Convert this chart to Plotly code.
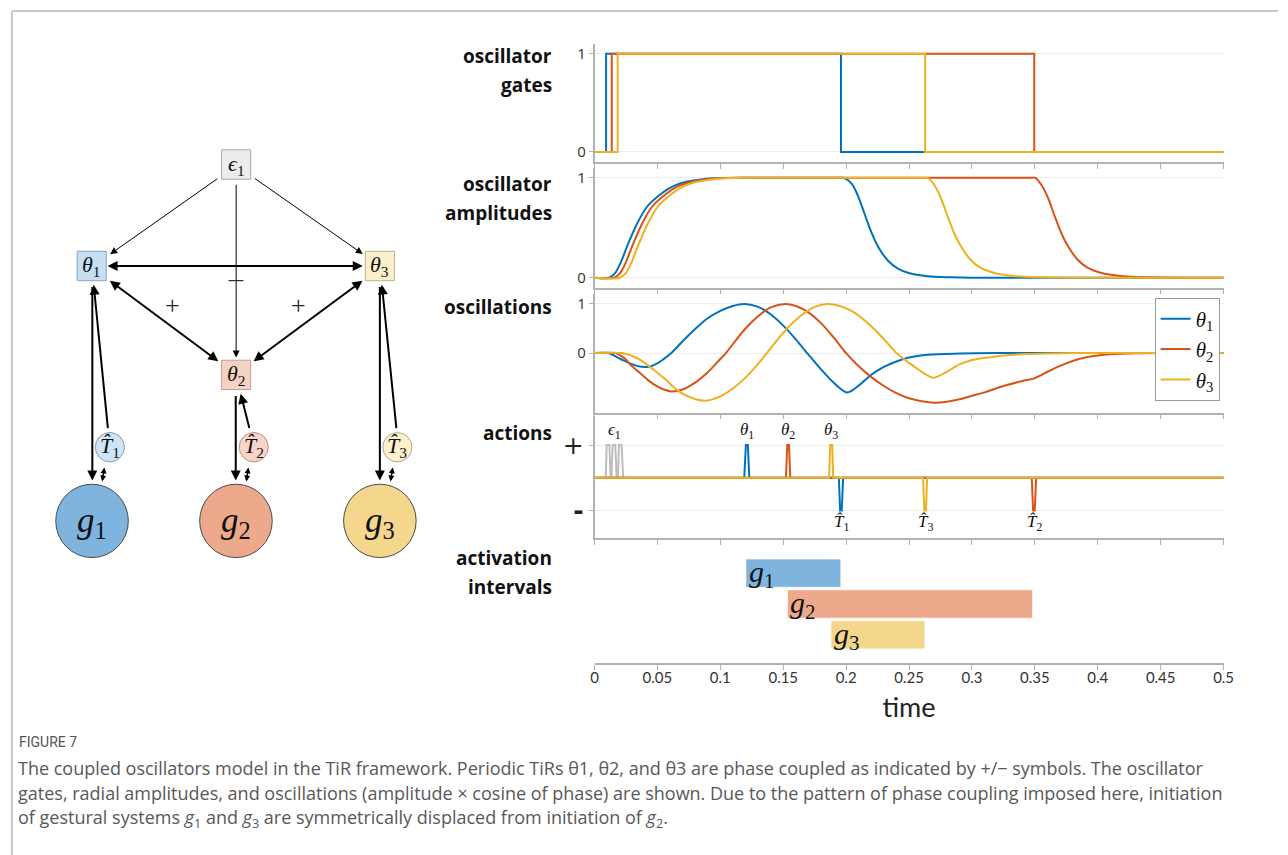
import plotly.graph_objects as go

W, H = 1288, 855

# ---------------- data ----------------
tick_vals = [0, 0.05, 0.1, 0.15, 0.2, 0.25, 0.3, 0.35, 0.4, 0.45, 0.5]
tick_text = ["0", "0.05", "0.1", "0.15", "0.2", "0.25", "0.3", "0.35", "0.4", "0.45", "0.5"]

series_names = ["θ1", "θ2", "θ3"]
series_colors = ["#0072BD", "#D95319", "#EDB120"]

# oscillator gates (step functions)
gate_t1 = [0, 0.0092, 0.1959, 0.5]
gate_v1 = [0, 1, 0, 0]
gate_t2 = [0, 0.0137, 0.3495, 0.5]
gate_v2 = [0, 1, 0, 0]
gate_t3 = [0, 0.0184, 0.2628, 0.5]
gate_v3 = [0, 1, 0, 0]

# oscillator amplitudes
amp_t1 = [0, 0.0115, 0.016, 0.0207, 0.026, 0.0338, 0.0417, 0.05, 0.06, 0.0731, 0.0862, 0.0993, 0.12, 0.195,
          0.198, 0.2045, 0.2097, 0.2149, 0.2202, 0.2254, 0.2333, 0.2411, 0.2498, 0.2647, 0.283, 0.30, 0.5]
amp_v1 = [0, 0, 0.04, 0.147, 0.317, 0.54, 0.71, 0.81, 0.90, 0.96, 0.986, 0.997, 1, 1,
          1, 0.94, 0.81, 0.63, 0.45, 0.31, 0.17, 0.09, 0.046, 0.014, 0.004, 0, 0]
amp_t2 = [0, 0.0155, 0.020, 0.0247, 0.030, 0.0378, 0.0457, 0.054, 0.064, 0.0771, 0.0902, 0.1033, 0.124, 0.347,
          0.3504, 0.3551, 0.3604, 0.3656, 0.3709, 0.3761, 0.384, 0.3918, 0.4023, 0.418, 0.44, 0.47, 0.5]
amp_v2 = [0, 0, 0.04, 0.147, 0.317, 0.54, 0.71, 0.81, 0.90, 0.96, 0.986, 0.997, 1, 1,
          1, 0.93, 0.80, 0.62, 0.45, 0.32, 0.18, 0.10, 0.05, 0.017, 0.004, 0, 0]
amp_t3 = [0, 0.020, 0.0245, 0.0292, 0.0345, 0.0423, 0.0502, 0.0585, 0.0685, 0.0816, 0.0947, 0.1078, 0.128, 0.261,
          0.2647, 0.27, 0.2752, 0.2805, 0.2857, 0.291, 0.2988, 0.3067, 0.3171, 0.3329, 0.354, 0.38, 0.5]
amp_v3 = [0, 0, 0.04, 0.147, 0.317, 0.54, 0.71, 0.81, 0.90, 0.96, 0.986, 0.997, 1, 1,
          1, 0.93, 0.80, 0.62, 0.45, 0.32, 0.18, 0.10, 0.05, 0.017, 0.004, 0, 0]

# oscillations (amplitude x cos(phase))
osc_t1 = [0, 0.011, 0.0207, 0.0336, 0.043, 0.05, 0.055, 0.061, 0.07, 0.08, 0.09, 0.10, 0.11, 0.119, 0.13, 0.14,
          0.15, 0.16, 0.169, 0.18, 0.19, 0.2007, 0.21, 0.22, 0.23, 0.24, 0.25, 0.265, 0.29, 0.32, 0.5]
osc_v1 = [0, 0, -0.12, -0.26, -0.28, -0.21, -0.12, 0, 0.24, 0.49, 0.71, 0.86, 0.96, 1.0, 0.94, 0.79,
          0.56, 0.28, 0, -0.33, -0.6, -0.8, -0.66, -0.44, -0.28, -0.17, -0.09, -0.035, -0.01, 0, 0]
osc_t2 = [0, 0.0165, 0.0207, 0.025, 0.0286, 0.035, 0.043, 0.05, 0.055, 0.061, 0.07, 0.08, 0.09, 0.1, 0.1044,
          0.11, 0.12, 0.13, 0.14, 0.1516, 0.16, 0.17, 0.18, 0.19, 0.2, 0.21, 0.22, 0.23, 0.2387, 0.25, 0.26,
          0.27, 0.28, 0.29, 0.30, 0.31, 0.325, 0.34, 0.35, 0.36, 0.37, 0.38, 0.39, 0.40, 0.41, 0.42, 0.435,
          0.45, 0.5]
osc_v2 = [0, 0, -0.05, -0.13, -0.24, -0.38, -0.56, -0.68, -0.74, -0.78, -0.74, -0.6, -0.39, -0.12, 0,
          0.185, 0.5, 0.75, 0.93, 1.0, 0.96, 0.83, 0.61, 0.32, 0, -0.27, -0.49, -0.67, -0.8, -0.92, -0.98,
          -1.01, -0.99, -0.94, -0.87, -0.8, -0.67, -0.57, -0.51, -0.38, -0.26, -0.16, -0.09, -0.05, -0.025,
          -0.012, -0.004, 0, 0]
osc_t3 = [0, 0.022, 0.03, 0.037, 0.043, 0.05, 0.057, 0.066, 0.075, 0.0874, 0.1, 0.11, 0.12, 0.13, 0.137,
          0.145, 0.155, 0.165, 0.175, 0.1857, 0.195, 0.205, 0.215, 0.225, 0.235, 0.24, 0.25, 0.26, 0.265,
          0.27, 0.28, 0.29, 0.30, 0.317, 0.33, 0.343, 0.36, 0.38, 0.5]
osc_v3 = [0, 0, -0.06, -0.15, -0.26, -0.4, -0.55, -0.76, -0.89, -0.97, -0.88, -0.72, -0.5, -0.22, 0,
          0.26, 0.55, 0.78, 0.94, 1.0, 0.96, 0.85, 0.66, 0.42, 0.14, 0, -0.2, -0.38, -0.46,
          -0.5, -0.38, -0.23, -0.14, -0.075, -0.04, -0.02, -0.008, 0, 0]

# actions (+ = oscillator triggers, - = target achievement)
act_eps_t = [0.0089, 0.0097, 0.0118, 0.0128, 0.0134, 0.0144, 0.0165, 0.0176, 0.0186, 0.0194, 0.0215, 0.0228]
act_eps_v = [0, 1, 1, 0, 0, 1, 1, 0, 0, 1, 1, 0]
act_t1 = [0, 0.119, 0.1203, 0.1219, 0.123, 0.1942, 0.1952, 0.1965, 0.1976, 0.5]
act_v1 = [0, 0, 1, 1, 0, 0, -1, -1, 0, 0]
act_t2 = [0, 0.1522, 0.1532, 0.1546, 0.1556, 0.3475, 0.3486, 0.3499, 0.351, 0.5]
act_v2 = [0, 0, 1, 1, 0, 0, -1, -1, 0, 0]
act_t3 = [0, 0.1865, 0.1873, 0.1889, 0.1897, 0.2611, 0.2621, 0.2634, 0.2644, 0.5]
act_v3 = [0, 0, 1, 1, 0, 0, -1, -1, 0, 0]

act_plus_labels = ["<i>ϵ</i><sub>1</sub>", "<i>θ</i><sub>1</sub>", "<i>θ</i><sub>2</sub>", "<i>θ</i><sub>3</sub>"]
act_plus_times = [0.0158, 0.121, 0.154, 0.188]
act_minus_labels = ["<i>T̂</i><sub>1</sub>", "<i>T̂</i><sub>3</sub>", "<i>T̂</i><sub>2</sub>"]
act_minus_times = [0.196, 0.2628, 0.3495]

# activation intervals
gest_names = ["g1", "g2", "g3"]
gest_labels = ["<i>g</i><sub>1</sub>", "<i>g</i><sub>2</sub>", "<i>g</i><sub>3</sub>"]
gest_rows = [3, 2, 1]
gest_start = [0.1203, 0.1533, 0.1879]
gest_end = [0.1958, 0.3483, 0.2626]
gest_colors = ["#7FB4DE", "#ECA98B", "#F5D68D"]

row_labels = [["oscillator", "gates"], ["oscillator", "amplitudes"], ["oscillations"], ["actions"],
              ["activation", "intervals"]]

caption_head = "FIGURE 7"
caption_lines = [
    "The coupled oscillators model in the TiR framework. Periodic TiRs θ1, θ2, and θ3 are phase coupled as indicated by +/− symbols. The oscillator",
    "gates, radial amplitudes, and oscillations (amplitude × cosine of phase) are shown. Due to the pattern of phase coupling imposed here, initiation",
    "of gestural systems <i>g</i><sub>1</sub> and <i>g</i><sub>3</sub> are symmetrically displaced from initiation of <i>g</i><sub>2</sub>.",
]

# ---------------- helpers ----------------
def xp(p):
    return p / W


def yp(p):
    return 1 - p / H


MATH = "Liberation Serif"
SANS = "Open Sans"
AXC = "#b2b2b2"

fig = go.Figure()

ax_names = ["x", "x2", "x3", "x4", "x5"]
ay_names = ["y", "y2", "y3", "y4", "y5"]


def add_line(t, v, color, panel, name=None, shape="linear", legend=False, width=2):
    fig.add_trace(go.Scatter(
        x=t, y=v, mode="lines", name=name, showlegend=legend,
        line=dict(color=color, width=width, shape=shape, smoothing=0.9 if shape == "spline" else None),
        xaxis=ax_names[panel], yaxis=ay_names[panel], hoverinfo="skip"))


gates = [(gate_t1, gate_v1), (gate_t2, gate_v2), (gate_t3, gate_v3)]
amps = [(amp_t1, amp_v1), (amp_t2, amp_v2), (amp_t3, amp_v3)]
oscs = [(osc_t1, osc_v1), (osc_t2, osc_v2), (osc_t3, osc_v3)]
acts = [(act_t1, act_v1), (act_t2, act_v2), (act_t3, act_v3)]
legend_names = ["<i>θ</i><sub>1</sub>", "<i>θ</i><sub>2</sub>", "<i>θ</i><sub>3</sub>"]

for i in range(3):
    add_line(gates[i][0], gates[i][1], series_colors[i], 0, shape="hv")
for i in range(3):
    add_line(amps[i][0], amps[i][1], series_colors[i], 1, shape="spline")
for i in range(3):
    add_line(oscs[i][0], oscs[i][1], series_colors[i], 2, name=legend_names[i], shape="spline", legend=True)
add_line(act_eps_t, act_eps_v, "#BDBDBD", 3)
for i in range(3):
    add_line(acts[i][0], acts[i][1], series_colors[i], 3)

for i in range(3):
    fig.add_trace(go.Bar(
        y=[gest_rows[i]], x=[gest_end[i] - gest_start[i]], base=[gest_start[i]], orientation="h",
        width=0.92, marker=dict(color=gest_colors[i], line=dict(color="rgba(255,255,255,0.8)", width=1)),
        showlegend=False, name=gest_names[i], xaxis="x5", yaxis="y5", hoverinfo="skip"))

# ---------------- axes ----------------
panels_px = [(43, 161), (167, 287), (293, 412), (415, 538), (545, 663)]
y_ranges = [[-0.1, 1.1], [-0.1, 1.1], [-1.21, 1.21], [-1.85, 1.9], [0.08, 3.9]]
xdom = [xp(597), xp(1233)]

layout_axes = {}
for i in range(5):
    top, bot = panels_px[i]
    xa = dict(domain=xdom, anchor=ay_names[i], range=[0, 0.5], showgrid=False, zeroline=False,
              showline=True, linecolor=AXC, linewidth=1.5, ticks="outside", ticklen=5, tickcolor=AXC,
              tickwidth=1, tickvals=tick_vals, showticklabels=False, fixedrange=True)
    ya = dict(domain=[yp(bot), yp(top)], anchor=ax_names[i], range=y_ranges[i], zeroline=False,
              showline=True, linecolor=AXC, linewidth=1.5, ticks="outside", ticklen=4, tickcolor=AXC,
              showgrid=True, gridcolor="#ececec", gridwidth=1,
              tickfont=dict(family=SANS, size=15, color="#333"), fixedrange=True)
    if i in (0, 1, 2):
        ya.update(tickvals=[0, 1], ticktext=["0", "1"])
    elif i == 3:
        ya.update(tickvals=[-1, 1], ticktext=["<b>-</b>", "+"],
                  tickfont=dict(family="DejaVu Sans", size=25, color="#222"))
    else:
        ya.update(visible=False, showgrid=False, showline=False)
        xa.update(showticklabels=True, ticktext=tick_text, ticklabelstandoff=-5,
                  tickfont=dict(family="Lato", size=15, color="#333"),
                  title=dict(text="time", font=dict(family="Lato", size=27, color="#222"), standoff=13))
    layout_axes["xaxis" if i == 0 else f"xaxis{i + 1}"] = xa
    layout_axes["yaxis" if i == 0 else f"yaxis{i + 1}"] = ya

fig.update_layout(**layout_axes)

annotations = []
shapes = []

# row labels
label_rows_px = [[55, 84], [183, 212], [306], [433], [558, 587]]
for lines, ys in zip(row_labels, label_rows_px):
    for txt, yy in zip(lines, ys):
        annotations.append(dict(text="<b>" + txt + "</b>", x=xp(556), y=yp(yy), xref="paper", yref="paper",
                                xanchor="right", yanchor="middle", showarrow=False,
                                font=dict(family=SANS, size=19, color="#111")))

# action labels
for lab, tt in zip(act_plus_labels, act_plus_times):
    annotations.append(dict(text=lab, x=tt, y=1.42, xref="x4", yref="y4", showarrow=False,
                            xanchor="center", yanchor="middle", font=dict(family=MATH, size=17, color="#111")))
for lab, tt in zip(act_minus_labels, act_minus_times):
    annotations.append(dict(text=lab, x=tt, y=-1.38, xref="x4", yref="y4", showarrow=False,
                            xanchor="center", yanchor="middle", font=dict(family=MATH, size=17, color="#111")))

# activation labels
for lab, st, row in zip(gest_labels, gest_start, gest_rows):
    annotations.append(dict(text=lab, x=st, y=row, xref="x5", yref="y5", showarrow=False,
                            xanchor="left", yanchor="middle", xshift=1, yshift=-1,
                            font=dict(family=MATH, size=30, color="#111")))

# ---------------- diagram (pixel layout) ----------------
boxes = [  # (cx, cy, half, fill, border, label)
    (234.7, 163.7, 14.7, "#EDEDED", "#A8A8A8", "<i>ϵ</i><sub>1</sub>"),
    (88.7, 265.3, 14.7, "#C6DFF3", "#8BA6C0", "<i>θ</i><sub>1</sub>"),
    (380.0, 265.3, 14.7, "#FCEFCB", "#BFB28C", "<i>θ</i><sub>3</sub>"),
    (234.7, 374.3, 14.7, "#F6D2C4", "#C39F91", "<i>θ</i><sub>2</sub>"),
]
for cx, cy, hh, fc, bc, lab in boxes:
    shapes.append(dict(type="rect", xref="paper", yref="paper", x0=xp(cx - hh), x1=xp(cx + hh),
                       y0=yp(cy + hh), y1=yp(cy - hh), fillcolor=fc, line=dict(color=bc, width=1)))
    annotations.append(dict(text=lab, x=xp(cx), y=yp(cy), xref="paper", yref="paper", showarrow=False,
                            xanchor="center", yanchor="middle", font=dict(family=MATH, size=22, color="#111")))

circles = [  # (cx, cy, r, fill, border, label, size)
    (107.0, 446.7, 14.7, "#CFE4F5", "#7F9CB8", "<i>T̂</i><sub>1</sub>", 22),
    (252.5, 446.7, 14.7, "#F7D6C9", "#B8907F", "<i>T̂</i><sub>2</sub>", 22),
    (397.7, 446.7, 14.7, "#FDF0CD", "#B5A885", "<i>T̂</i><sub>3</sub>", 22),
    (89.0, 520.5, 36.7, "#7FB4DE", "#4A4A4A", "<i>g</i><sub>1</sub>", 35),
    (234.5, 520.5, 36.7, "#ECA98B", "#4A4A4A", "<i>g</i><sub>2</sub>", 35),
    (380.0, 520.5, 36.7, "#F5D68D", "#4A4A4A", "<i>g</i><sub>3</sub>", 35),
]
for cx, cy, r, fc, bc, lab, fs in circles:
    shapes.append(dict(type="circle", xref="paper", yref="paper", x0=xp(cx - r), x1=xp(cx + r),
                       y0=yp(cy + r), y1=yp(cy - r), fillcolor=fc, line=dict(color=bc, width=1)))
    annotations.append(dict(text=lab, x=xp(cx), y=yp(cy), xref="paper", yref="paper", showarrow=False,
                            xanchor="center", yanchor="middle", yshift=-2 if fs > 30 else 0,
                            font=dict(family=MATH, size=fs, color="#111")))

arrows = [  # (tail, head, width, size, double)
    ((216.0, 177.0), (107.3, 253.5), 1, 1.4, False),
    ((253.3, 176.7), (362.7, 253.3), 1, 1.4, False),
    ((234.7, 182.7), (234.7, 357.0), 1, 1.4, False),
    ((106.0, 265.3), (362.7, 265.3), 2, 1.0, True),
    ((106.7, 279.0), (216.7, 360.7), 2, 1.0, True),
    ((362.7, 279.0), (252.3, 360.7), 2, 1.0, True),
    ((89.3, 285.0), (89.3, 480.0), 2, 1.0, False),
    ((105.0, 429.0), (90.7, 284.0), 2, 1.0, False),
    ((101.7, 465.5), (99.3, 481.0), 1.5, 0.8, True),
    ((234.3, 394.0), (234.3, 480.0), 2, 1.0, False),
    ((248.3, 429.0), (239.3, 393.3), 2, 1.0, False),
    ((247.3, 465.5), (245.0, 481.0), 1.5, 0.8, True),
    ((380.0, 285.0), (380.0, 480.0), 2, 1.0, False),
    ((396.7, 429.0), (382.0, 284.0), 2, 1.0, False),
    ((393.3, 465.5), (390.7, 481.0), 1.5, 0.8, True),
]
for tail, head, wdt, sz, dbl in arrows:
    annotations.append(dict(text="", x=xp(head[0]), y=yp(head[1]), xref="paper", yref="paper",
                            ax=tail[0] - head[0], ay=tail[1] - head[1], axref="pixel", ayref="pixel",
                            showarrow=True, arrowhead=2, arrowsize=sz, arrowwidth=wdt, arrowcolor="#000",
                            startarrowhead=2, startarrowsize=sz, arrowside="end+start" if dbl else "end",
                            standoff=0, startstandoff=0))

# minus mark on the theta1-theta3 coupling and plus marks
shapes.append(dict(type="line", xref="paper", yref="paper", x0=xp(227), x1=xp(242), y0=yp(280), y1=yp(280),
                   line=dict(color="#000", width=1)))
for px_ in (170.7, 297.7):
    annotations.append(dict(text="+", x=xp(px_), y=yp(305), xref="paper", yref="paper", showarrow=False,
                            xanchor="center", yanchor="middle", font=dict(family=MATH, size=26, color="#222")))

# page frame
shapes.append(dict(type="line", xref="paper", yref="paper", x0=xp(8), x1=1, y0=yp(10), y1=yp(10),
                   line=dict(color="#C9C9C9", width=2)))
shapes.append(dict(type="line", xref="paper", yref="paper", x0=xp(8), x1=xp(8), y0=0, y1=yp(10),
                   line=dict(color="#C9C9C9", width=2)))

# caption
annotations.append(dict(text=caption_head, x=xp(13), y=yp(742), xref="paper", yref="paper", showarrow=False,
                        xanchor="left", yanchor="middle", font=dict(family="Roboto", size=14, color="#555")))
for k, line in enumerate(caption_lines):
    annotations.append(dict(text=line, x=xp(12), y=yp(768 + 25 * k), xref="paper", yref="paper",
                            showarrow=False, xanchor="left", yanchor="middle",
                            font=dict(family=SANS, size=18, color="#585858")))

fig.update_layout(
    width=W, height=H, margin=dict(l=0, r=0, t=0, b=0),
    paper_bgcolor="white", plot_bgcolor="white",
    annotations=annotations, shapes=shapes, barmode="overlay",
    legend=dict(x=xp(1229), xanchor="right", y=yp(297), yanchor="top", bgcolor="white",
                bordercolor="#9a9a9a", borderwidth=1, font=dict(family=MATH, size=21, color="#111"),
                tracegroupgap=0, itemwidth=30),
)

fig.write_html("out.html")
